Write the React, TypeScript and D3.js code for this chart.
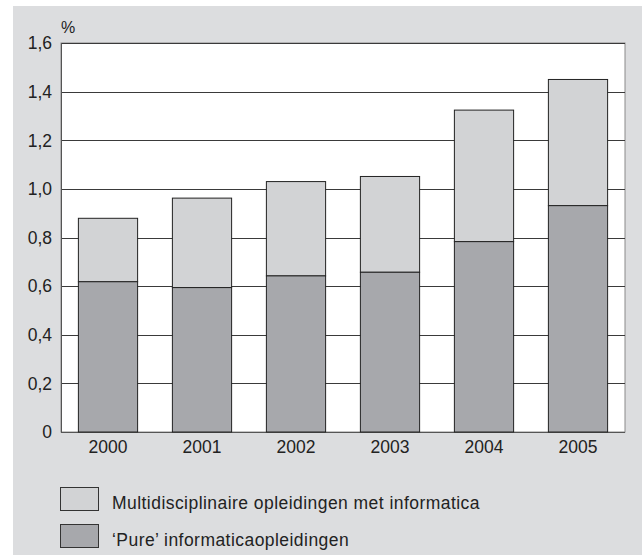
import React, { useRef, useEffect } from "react";
import * as d3 from "d3";

const years = ["2000", "2001", "2002", "2003", "2004", "2005"];
// 'Pure' informatica (bottom segment)
const pureValues = [0.618, 0.594, 0.642, 0.657, 0.783, 0.931];
// Multidisciplinaire (total bar height)
const totalValues = [0.879, 0.962, 1.03, 1.051, 1.324, 1.45];
const yTicks = [0, 0.2, 0.4, 0.6, 0.8, 1.0, 1.2, 1.4, 1.6];
const legendLabels = [
  "Multidisciplinaire opleidingen met informatica",
  "\u2018Pure\u2019 informaticaopleidingen",
];

const App = () => {
  const svgRef = useRef<SVGSVGElement>(null);

  useEffect(() => {
    if (!svgRef.current) return;
    const svg = d3.select(svgRef.current);
    svg.selectAll("*").remove();

    const width = 642;
    const height = 555;
    const font = "'Liberation Sans', Arial, sans-serif";
    const lightFill = "#d2d3d5";
    const darkFill = "#a7a8ac";

    // grey panel
    svg
      .append("rect")
      .attr("x", 13)
      .attr("y", 6)
      .attr("width", width - 13)
      .attr("height", height - 6)
      .attr("fill", "#dcdddf");

    const margins = { left: 61, right: 17, top: 43, bottom: 123 };
    const w = width - margins.left - margins.right;
    const h = height - margins.top - margins.bottom;

    const g = svg
      .append("g")
      .attr("transform", `translate(${margins.left},${margins.top})`);

    const xScale = d3
      .scaleBand()
      .domain(years)
      .range([0, w])
      .paddingInner(0.37)
      .paddingOuter(0.185);

    const yScale = d3.scaleLinear().domain([0, 1.6]).range([h, 0]);

    g.append("rect")
      .attr("width", w)
      .attr("height", h)
      .attr("fill", "#fff")
      .attr("stroke", "#8a8a8a")
      .attr("stroke-width", 1);

    // gridlines
    g.selectAll(".grid")
      .data(yTicks.filter((t) => t > 0))
      .join("line")
      .attr("x1", 0)
      .attr("x2", w)
      .attr("y1", (d) => Math.round(yScale(d)) + 0.5)
      .attr("y2", (d) => Math.round(yScale(d)) + 0.5)
      .attr("stroke", "#3a3a3a")
      .attr("stroke-width", 1);

    // axis lines
    g.append("line")
      .attr("x1", 0.5)
      .attr("x2", 0.5)
      .attr("y1", 0)
      .attr("y2", h)
      .attr("stroke", "#555");
    g.append("line")
      .attr("x1", 0)
      .attr("x2", w)
      .attr("y1", h + 0.5)
      .attr("y2", h + 0.5)
      .attr("stroke", "#555");

    // y tick labels
    g.selectAll(".ylab")
      .data(yTicks)
      .join("text")
      .attr("x", -9)
      .attr("y", (d) => yScale(d))
      .attr("dy", "0.36em")
      .attr("text-anchor", "end")
      .attr("font-family", font)
      .attr("font-size", 17.5)
      .attr("fill", "#222")
      .text((d) => (d === 0 ? "0" : d3.format(".1f")(d).replace(".", ",")));

    g.append("text")
      .attr("x", 0)
      .attr("y", -10)
      .attr("font-family", font)
      .attr("font-size", 16)
      .attr("fill", "#222")
      .text("%");

    const bars = years.map((year, i) => ({
      year,
      pure: pureValues[i],
      total: totalValues[i],
    }));

    // top segment
    g.selectAll(".multi")
      .data(bars)
      .join("rect")
      .attr("x", (d) => xScale(d.year)!)
      .attr("y", (d) => yScale(d.total))
      .attr("width", xScale.bandwidth())
      .attr("height", (d) => yScale(d.pure) - yScale(d.total))
      .attr("fill", lightFill)
      .attr("stroke", "#222")
      .attr("stroke-width", 1);

    // bottom segment
    g.selectAll(".pure")
      .data(bars)
      .join("rect")
      .attr("x", (d) => xScale(d.year)!)
      .attr("y", (d) => yScale(d.pure))
      .attr("width", xScale.bandwidth())
      .attr("height", (d) => h - yScale(d.pure))
      .attr("fill", darkFill)
      .attr("stroke", "#222")
      .attr("stroke-width", 1);

    // x labels
    g.selectAll(".xlab")
      .data(years)
      .join("text")
      .attr("x", (d) => xScale(d)! + xScale.bandwidth() / 2)
      .attr("y", h + 21)
      .attr("text-anchor", "middle")
      .attr("font-family", font)
      .attr("font-size", 17.5)
      .attr("fill", "#222")
      .text((d) => d);

    // legend
    const legend = svg
      .append("g")
      .selectAll("g")
      .data(legendLabels)
      .join("g")
      .attr("transform", (d, i) => `translate(60,${487 + i * 37})`);

    legend
      .append("rect")
      .attr("x", 0.5)
      .attr("y", 0.5)
      .attr("width", 38)
      .attr("height", 23)
      .attr("fill", (d, i) => (i === 0 ? lightFill : darkFill))
      .attr("stroke", "#333");

    legend
      .append("text")
      .attr("x", 52)
      .attr("y", 22)
      .attr("font-family", font)
      .attr("font-size", 17.5)
      .attr("letter-spacing", 0.45)
      .attr("fill", "#222")
      .text((d) => d);
  }, []);

  return (
    <svg
      ref={svgRef}
      width={642}
      height={555}
      style={{ position: "absolute", left: 0, top: 0 }}
    />
  );
};

export default App;
